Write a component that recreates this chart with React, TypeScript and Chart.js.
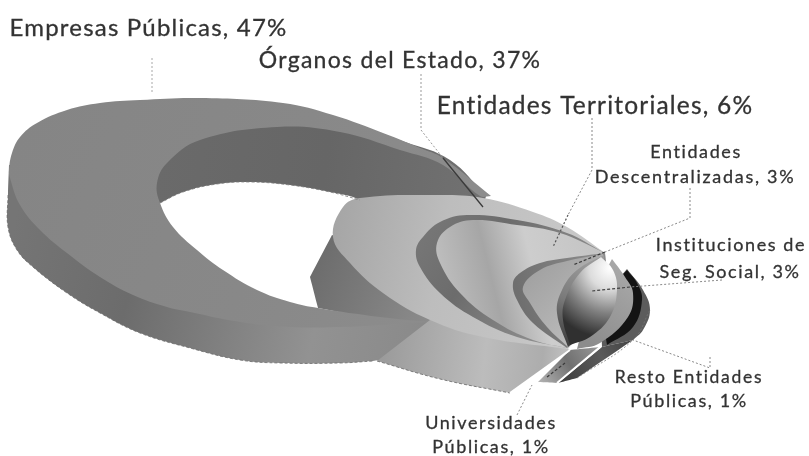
import React, { useEffect, useRef } from "react";
import { Chart, registerables } from "chart.js";

Chart.register(...registerables);

type Pt = [number, number];

// ---- what the chart says
const categories = [
  "Empresas Públicas",
  "Órganos del Estado",
  "Entidades Territoriales",
  "Entidades Descentralizadas",
  "Instituciones de Seg. Social",
  "Resto Entidades Públicas",
  "Universidades Públicas",
];
const shares = [47, 37, 6, 3, 3, 1, 1];

// ---- outlines, in axis units (a repeated point is a sharp corner)
const backWall: Pt[] = [[146,200],[148,178],[160,155],[195,132],[277,119],[345,124],[405,142],[450,160],[486,196],[486,196],[470,260],[470,260],[360,200],[330,192],[290,185],[250,182],[217,184],[183,192],[160,203],[160,203],[150,207],[150,207]];
const organosSideWall: Pt[] = [[332,235],[332,235],[310,277],[310,277],[318,308],[318,308],[430,330],[430,330],[480,280],[480,280]];
const empresasWallEdge: Pt[] = [[8,195],[8,227],[17,250],[33,267],[67,293],[100,313],[140,333],[190,348],[240,360],[280,363],[340,363],[373,361]];
const empresasWallInner: Pt[] = [[430,322],[333,320],[267,318],[200,305],[133,285],[83,250],[33,205],[12,165]];
const empresasTop: Pt[] = [[491,196],[491,196],[443,158],[420,148],[383,133],[333,115],[283,103],[200,98],[140,100],[100,103],[67,110],[37,123],[20,137],[12,153],[9,170],[10,178],[20,205],[40,230],[67,253],[100,277],[133,295],[167,307],[190,312],[240,322],[290,327],[340,327],[380,325],[430,322],[430,322],[380,317],[318,308],[290,302],[257,290],[223,270],[197,250],[173,227],[160,203],[157,183],[167,163],[200,140],[277,127],[340,132],[400,150],[443,165],[480,196],[491,196]];
const organosFrontEdge: Pt[] = [[377,361],[377,361],[440,379],[510,393],[510,393],[570,350]];
const organosFrontInner: Pt[] = [[570,350],[500,320],[430,320],[430,320]];
const organosTop: Pt[] = [[605,253],[605,253],[567,227],[533,212],[483,198],[433,195],[360,198],[343,207],[333,237],[350,263],[383,293],[430,320],[483,337],[568,349],[568,349],[610,300]];
const territorialWall: Pt[] = [[603,252],[603,252],[567,233],[517,220],[467,215],[440,222],[423,237],[416,250],[420,267],[440,293],[473,317],[517,337],[567,348],[567,348],[600,300]];
const territorialTop: Pt[] = [[603,252],[603,252],[560,233],[517,225],[473,220],[450,227],[437,243],[440,263],[460,293],[493,320],[533,340],[567,348],[567,348],[600,300]];
const descentralizadasWall: Pt[] = [[605,253],[605,253],[567,258],[540,263],[520,273],[513,283],[517,300],[533,323],[567,348],[567,348],[610,300]];
const descentralizadasTop: Pt[] = [[603,254],[603,254],[567,261],[540,270],[523,287],[530,303],[547,327],[568,347],[568,347],[610,300]];
const institucionesWall: Pt[] = [[604,255],[604,255],[577,270],[562,290],[557,313],[568,347],[568,347],[600,320]];
const institucionesTop: Pt[] = [[601,257],[601,257],[580,273],[565,300],[563,320],[570,345],[570,345],[590,337],[610,317],[617,290],[613,270],[601,257]];
const restoOuter: Pt[] = [[627,269],[627,269],[643,290],[650,310],[643,330],[633,340],[633,340],[602,347],[602,347],[600,300]];
const restoBand: Pt[] = [[627,270],[627,270],[637,283],[642,300],[633,327],[607,345],[607,345],[600,300]];
const universidadesBand: Pt[] = [[612,259],[612,259],[625,277],[633,293],[628,317],[600,343],[577,349],[577,349],[590,300]];
const restoWedge: Pt[] = [[602,347],[602,347],[633,340],[633,340],[577,378],[577,378],[558,383],[558,383]];
const universidadesWedge: Pt[] = [[570,350],[570,350],[600,347],[600,347],[557,383],[557,383],[538,382],[538,382]];

// ---- thin edges
const holeLowerEdge: Pt[] = [[160,203],[183,192],[217,184],[250,182],[290,185],[330,192],[360,200]];
const organosGapEdge: Pt[] = [[510,393],[570,350]];
const wedgeGapEdge: Pt[] = [[557,383],[600,347]];
const wedgeOuterEdge: Pt[] = [[577,378],[633,340],[650,310]];

// ---- leader lines, in axis units
const leaderEmpresas: Pt[] = [[152,58],[152,92]];
const leaderOrganos: Pt[] = [[421,74],[421,130],[443,158]];
const leaderOrganosInner: Pt[] = [[443,158],[483,207]];
const leaderTerritoriales: Pt[] = [[592,118],[592,170],[568,215]];
const leaderTerritorialesInner: Pt[] = [[568,215],[553,247]];
const leaderDescentralizadas: Pt[] = [[690,188],[690,218],[605,252]];
const leaderDescentralizadasInner: Pt[] = [[605,252],[573,265]];
const leaderInstituciones: Pt[] = [[722,280],[630,287]];
const leaderInstitucionesInner: Pt[] = [[630,287],[592,291]];
const leaderResto: Pt[] = [[710,357],[710,368],[633,340]];
const leaderUniversidades: Pt[] = [[517,415],[532,385]];
const leaderUniversidadesInner: Pt[] = [[547,377],[565,363]];

// ---- label lines: category text, centre x, baseline y, font size, spacing
const labelLines: { text: string; x: number; y: number; size: number; gap: number }[] = [
  { text: `${categories[0]}, ${shares[0]}%`, x: 148.5, y: 36, size: 24, gap: 1.2 },
  { text: `${categories[1]}, ${shares[1]}%`, x: 400, y: 68, size: 23, gap: 1.3 },
  { text: `${categories[2]}, ${shares[2]}%`, x: 595, y: 114, size: 24.5, gap: 1.2 },
  { text: "Entidades", x: 696, y: 158, size: 18, gap: 1.6 },
  { text: `Descentralizadas, ${shares[3]}%`, x: 695, y: 183, size: 18, gap: 1.7 },
  { text: "Instituciones de", x: 731, y: 251, size: 18, gap: 1.6 },
  { text: `Seg. Social, ${shares[4]}%`, x: 730, y: 278, size: 18, gap: 1.6 },
  { text: "Resto Entidades", x: 689, y: 383, size: 17.5, gap: 1.7 },
  { text: `Públicas, ${shares[5]}%`, x: 689, y: 407, size: 18, gap: 1.6 },
  { text: "Universidades", x: 491, y: 429, size: 18, gap: 1.6 },
  { text: `Públicas, ${shares[6]}%`, x: 491, y: 453, size: 18, gap: 1.6 },
];

type Stops = [number, string][];
const linear = (x0: number, y0: number, x1: number, y1: number, stops: Stops) => (c: any) => {
  const { x, y } = c.chart.scales;
  const coords = [x.getPixelForValue(x0), y.getPixelForValue(y0), x.getPixelForValue(x1), y.getPixelForValue(y1)];
  if (!coords.every(Number.isFinite)) return stops[0][1];
  const g = c.chart.ctx.createLinearGradient(coords[0], coords[1], coords[2], coords[3]);
  stops.forEach(([o, col]) => g.addColorStop(o, col));
  return g;
};
const radial = (x0: number, y0: number, r: number, stops: Stops) => (c: any) => {
  const { x, y } = c.chart.scales;
  const px = x.getPixelForValue(x0);
  const py = y.getPixelForValue(y0);
  if (!Number.isFinite(px) || !Number.isFinite(py)) return stops[0][1];
  const g = c.chart.ctx.createRadialGradient(px, py, 0, px, py, r);
  stops.forEach(([o, col]) => g.addColorStop(o, col));
  return g;
};

// back to front
const layers: { name: string; outline: Pt[]; fill: any }[] = [
  { name: categories[5], outline: restoOuter, fill: "#5c5c5c" },
  { name: categories[5], outline: restoBand, fill: "#141414" },
  { name: categories[5], outline: restoWedge, fill: linear(560, 385, 630, 340, [[0, "#3c3c3c"], [0.6, "#5a5a5a"], [1, "#444444"]]) },
  { name: categories[6], outline: universidadesBand, fill: linear(640, 280, 590, 345, [[0, "#a8a8a8"], [1, "#8c8c8c"]]) },
  { name: categories[6], outline: universidadesWedge, fill: linear(540, 385, 600, 345, [[0, "#b4b4b4"], [0.5, "#707070"], [1, "#9a9a9a"]]) },
  { name: categories[0], outline: backWall, fill: linear(160, 150, 490, 190, [[0, "#6a6a6a"], [0.5, "#666666"], [1, "#727272"]]) },
  { name: categories[1], outline: organosSideWall, fill: linear(310, 270, 430, 320, [[0, "#6c6c6c"], [1, "#8c8c8c"]]) },
  { name: categories[0], outline: [[9, 165], [9, 165], ...empresasWallEdge, [373, 361], [393, 357], [430, 322], ...empresasWallInner], fill: linear(8, 250, 420, 340, [[0, "#757575"], [0.3, "#6c6c6c"], [0.75, "#929292"], [1, "#8a8a8a"]]) },
  { name: categories[0], outline: empresasTop, fill: linear(10, 150, 420, 320, [[0, "#858585"], [0.6, "#888888"], [1, "#8c8c8c"]]) },
  { name: categories[1], outline: [...organosFrontEdge, ...organosFrontInner], fill: linear(380, 350, 570, 370, [[0, "#9a9a9a"], [0.55, "#bcbcbc"], [0.85, "#adadad"], [1, "#c4c4c4"]]) },
  { name: categories[1], outline: organosTop, fill: linear(333, 240, 600, 290, [[0, "#a6a6a6"], [0.4, "#bdbdbd"], [1, "#cacaca"]]) },
  { name: categories[2], outline: territorialWall, fill: linear(420, 240, 560, 340, [[0, "#767676"], [0.35, "#6c6c6c"], [1, "#949494"]]) },
  { name: categories[2], outline: territorialTop, fill: linear(440, 290, 600, 250, [[0, "#c0c0c0"], [0.32, "#a6a6a6"], [0.58, "#cdcdcd"], [1, "#c4c4c4"]]) },
  { name: categories[3], outline: descentralizadasWall, fill: linear(515, 280, 600, 260, [[0, "#6f6f6f"], [1, "#8c8c8c"]]) },
  { name: categories[3], outline: descentralizadasTop, fill: linear(525, 280, 580, 340, [[0, "#a2a2a2"], [1, "#bcbcbc"]]) },
  { name: categories[4], outline: institucionesWall, fill: linear(590, 265, 560, 340, [[0, "#9a9a9a"], [0.5, "#7a7a7a"], [1, "#404040"]]) },
  { name: categories[4], outline: institucionesTop, fill: radial(610, 268, 70, [[0, "#ffffff"], [0.3, "#dcdcdc"], [0.65, "#808080"], [1, "#303030"]]) },
];

const strokes: { outline: Pt[]; color: string; width: number; dash: number[]; curve: number }[] = [
  { outline: empresasWallEdge, color: "#6a6a6a", width: 0.8, dash: [3, 2], curve: 0.4 },
  { outline: holeLowerEdge, color: "#777777", width: 0.8, dash: [3, 2], curve: 0.4 },
  { outline: organosFrontEdge.slice(0, 4), color: "#666666", width: 0.8, dash: [3, 2], curve: 0.4 },
  { outline: organosGapEdge, color: "#ffffff", width: 2, dash: [], curve: 0 },
  { outline: wedgeGapEdge, color: "#ffffff", width: 2, dash: [], curve: 0 },
  { outline: wedgeOuterEdge, color: "#777777", width: 0.8, dash: [2, 2], curve: 0.4 },
  { outline: leaderEmpresas, color: "#a8a8a8", width: 1, dash: [2, 2], curve: 0 },
  { outline: leaderOrganos, color: "#999999", width: 1, dash: [2, 2], curve: 0 },
  { outline: leaderOrganosInner, color: "#3a3a3a", width: 1.3, dash: [], curve: 0 },
  { outline: leaderTerritoriales, color: "#888888", width: 1, dash: [2, 2], curve: 0 },
  { outline: leaderTerritorialesInner, color: "#555555", width: 1.2, dash: [2, 2], curve: 0 },
  { outline: leaderDescentralizadas, color: "#888888", width: 1, dash: [2, 2], curve: 0 },
  { outline: leaderDescentralizadasInner, color: "#3a3a3a", width: 1.2, dash: [3, 2], curve: 0 },
  { outline: leaderInstituciones, color: "#888888", width: 1, dash: [2, 2], curve: 0 },
  { outline: leaderInstitucionesInner, color: "#444444", width: 1.2, dash: [3, 2], curve: 0 },
  { outline: leaderResto, color: "#888888", width: 1, dash: [2, 2], curve: 0 },
  { outline: leaderUniversidades, color: "#888888", width: 1, dash: [2, 2], curve: 0 },
  { outline: leaderUniversidadesInner, color: "#3a3a3a", width: 1.2, dash: [3, 2], curve: 0 },
];

const toPoints = (o: Pt[]) => o.map(([x, y]) => ({ x, y }));

const labelPlugin = {
  id: "ringLabels",
  afterDatasetsDraw(chart: any) {
    const { ctx, scales } = chart;
    ctx.save();
    ctx.textAlign = "center";
    ctx.textBaseline = "alphabetic";
    ctx.fillStyle = "#333333";
    ctx.strokeStyle = "#333333";
    ctx.lineWidth = 0.3;
    labelLines.forEach((l) => {
      ctx.font = `${l.size}px Lato, "Open Sans", sans-serif`;
      (ctx as any).letterSpacing = `${l.gap}px`;
      const px = scales.x.getPixelForValue(l.x);
      const py = scales.y.getPixelForValue(l.y);
      ctx.fillText(l.text, px, py);
      ctx.strokeText(l.text, px, py);
    });
    ctx.restore();
  },
};

export default function App() {
  const ref = useRef<HTMLCanvasElement>(null);
  useEffect(() => {
    const n = layers.length + strokes.length;
    const chart = new Chart(ref.current as HTMLCanvasElement, {
      type: "scatter",
      data: {
        datasets: [
          ...layers.map((l, i) => ({
            label: l.name,
            data: toPoints(l.outline),
            showLine: true,
            fill: "shape",
            tension: 0.4,
            backgroundColor: l.fill,
            borderWidth: 0,
            borderColor: "rgba(0,0,0,0)",
            pointRadius: 0,
            order: n - i,
          })),
          ...strokes.map((l, i) => ({
            label: "edge",
            data: toPoints(l.outline),
            showLine: true,
            fill: false,
            tension: l.curve,
            borderColor: l.color,
            borderWidth: l.width,
            borderDash: l.dash,
            pointRadius: 0,
            order: strokes.length - i - 1,
          })),
        ],
      },
      options: {
        animation: false,
        responsive: false,
        events: [],
        layout: { padding: 0 },
        plugins: { legend: { display: false }, tooltip: { enabled: false } },
        scales: {
          x: { type: "linear", min: 0, max: 809, display: false },
          y: { type: "linear", min: 0, max: 456, reverse: true, display: false },
        },
      },
      plugins: [labelPlugin],
    } as any);
    return () => chart.destroy();
  }, []);
  return (
    <div style={{ position: "absolute", left: 0, top: 0, width: 809, height: 456, background: "#fff" }}>
      <canvas ref={ref} width={809} height={456} style={{ display: "block", filter: "blur(0.45px)" }} />
    </div>
  );
}
